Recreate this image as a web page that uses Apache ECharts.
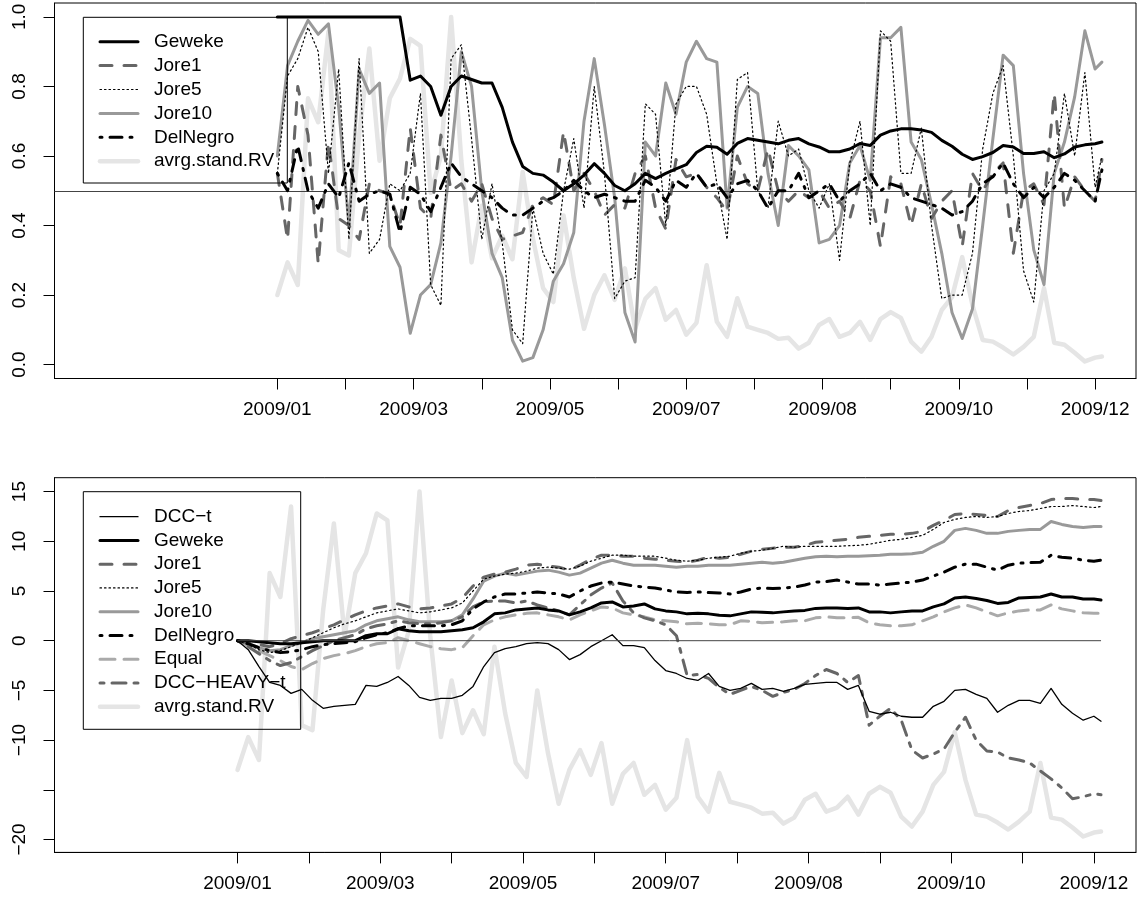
<!DOCTYPE html>
<html>
<head>
<meta charset="utf-8">
<script src="https://cdn.jsdelivr.net/npm/echarts@6/dist/echarts.min.js"></script>
</head>
<body>
<style>
    html, body, #main { width: 100%; height: 100%; margin: 0; background: #fff; }
</style>
<div id="main"></div>
<script>
// observation index grid (every 3rd trading day, plus the last one)
var obs = [];
for (var i = 0; i <= 240; i += 3) obs.push(i);
obs.push(242);

var tickObs = [0, 20, 40, 60, 80, 100, 120, 140, 160, 180, 200, 220, 240];
var labelObs = [0, 40, 80, 120, 160, 200, 240];
var labelText = ['2009/01', '2009/03', '2009/05', '2009/07', '2009/08', '2009/10', '2009/12'];

// ---- top panel: weights ----
var gewekeTop = [1,1,1,1,1,1,1,1,1,1,
    1,1,1,0.818,0.83,0.80,0.717,0.80,0.83,0.82,
    0.81,0.81,0.74,0.64,0.57,0.55,0.545,0.525,0.50,0.52,
    0.545,0.578,0.55,0.515,0.50,0.52,0.55,0.535,0.55,0.563,
    0.575,0.61,0.628,0.625,0.605,0.636,0.65,0.645,0.64,0.635,
    0.645,0.65,0.635,0.626,0.612,0.612,0.62,0.636,0.63,0.66,
    0.672,0.678,0.678,0.675,0.668,0.645,0.628,0.605,0.59,0.598,
    0.61,0.63,0.626,0.607,0.607,0.612,0.595,0.606,0.626,0.632,
    0.635,0.64];
var jore1Top = [0.55,0.36,0.80,0.66,0.29,0.64,0.42,0.40,0.36,0.52,
    0.50,0.49,0.40,0.68,0.45,0.42,0.66,0.50,0.52,0.47,
    0.52,0.42,0.36,0.37,0.38,0.46,0.48,0.46,0.67,0.50,
    0.55,0.50,0.43,0.46,0.45,0.55,0.60,0.45,0.39,0.59,
    0.54,0.55,0.51,0.48,0.44,0.60,0.52,0.50,0.62,0.50,
    0.47,0.50,0.48,0.50,0.45,0.47,0.42,0.53,0.50,0.34,
    0.54,0.52,0.40,0.52,0.42,0.47,0.50,0.34,0.55,0.50,
    0.55,0.58,0.32,0.50,0.52,0.46,0.78,0.45,0.54,0.50,
    0.47,0.59];
var jore5Top = [0.55,0.83,0.88,0.97,0.90,0.55,0.85,0.36,0.88,0.32,
    0.36,0.52,0.50,0.55,0.78,0.23,0.17,0.88,0.92,0.65,
    0.36,0.52,0.35,0.10,0.06,0.45,0.32,0.26,0.50,0.65,
    0.45,0.80,0.55,0.19,0.24,0.25,0.75,0.72,0.40,0.75,
    0.80,0.80,0.72,0.52,0.36,0.82,0.84,0.50,0.45,0.70,
    0.60,0.62,0.50,0.45,0.52,0.30,0.58,0.70,0.40,0.96,
    0.93,0.55,0.55,0.68,0.40,0.19,0.20,0.20,0.32,0.62,
    0.78,0.86,0.60,0.27,0.18,0.50,0.55,0.78,0.60,0.84,
    0.51,0.60];
var jore10Top = [0.60,0.86,0.93,0.99,0.95,0.98,0.74,0.40,0.85,0.78,
    0.81,0.34,0.28,0.09,0.20,0.23,0.35,0.60,0.90,0.80,
    0.50,0.32,0.25,0.07,0.01,0.02,0.10,0.24,0.29,0.38,
    0.70,0.88,0.69,0.48,0.15,0.065,0.64,0.60,0.81,0.72,
    0.87,0.93,0.88,0.87,0.45,0.74,0.80,0.78,0.55,0.40,
    0.63,0.60,0.56,0.35,0.36,0.40,0.58,0.63,0.53,0.94,
    0.94,0.97,0.64,0.59,0.46,0.32,0.15,0.075,0.16,0.40,
    0.65,0.89,0.86,0.55,0.33,0.23,0.55,0.64,0.77,0.96,
    0.85,0.87];
var delNegroTop = [0.55,0.50,0.63,0.50,0.45,0.52,0.48,0.58,0.47,0.49,
    0.50,0.49,0.38,0.51,0.49,0.44,0.51,0.58,0.54,0.52,
    0.50,0.48,0.45,0.43,0.43,0.45,0.47,0.48,0.50,0.53,
    0.50,0.48,0.49,0.48,0.47,0.47,0.53,0.51,0.47,0.53,
    0.51,0.55,0.51,0.52,0.48,0.52,0.53,0.50,0.45,0.50,
    0.50,0.55,0.48,0.50,0.52,0.47,0.50,0.52,0.55,0.50,
    0.52,0.51,0.48,0.47,0.46,0.45,0.43,0.44,0.47,0.52,
    0.54,0.58,0.52,0.48,0.51,0.48,0.51,0.55,0.53,0.50,
    0.47,0.56];
var rvTop = [0.20,0.294,0.229,0.766,0.697,0.957,0.329,0.314,0.66,0.909,
    0.586,0.766,0.823,0.937,0.917,0.494,0.60,1.0,0.586,0.294,
    0.457,0.306,0.371,0.303,0.554,0.363,0.22,0.18,0.429,0.249,
    0.103,0.20,0.257,0.186,0.277,0.103,0.189,0.22,0.129,0.157,
    0.086,0.12,0.286,0.123,0.08,0.191,0.109,0.10,0.091,0.074,
    0.077,0.046,0.063,0.114,0.131,0.08,0.091,0.123,0.071,0.131,
    0.151,0.134,0.066,0.037,0.08,0.157,0.194,0.309,0.171,0.071,
    0.066,0.049,0.029,0.051,0.08,0.22,0.063,0.057,0.034,0.009,
    0.02,0.023];

// ---- bottom panel: cumulative performance ----
var dccT = [0,-0.9,-2.6,-4.2,-4.5,-5.3,-4.9,-6,-6.8,-6.6,
    -6.5,-6.4,-4.5,-4.6,-4.2,-3.6,-4.5,-5.7,-6.0,-5.8,
    -5.8,-5.5,-4.6,-2.6,-1.2,-0.8,-0.6,-0.3,-0.2,-0.3,
    -0.9,-1.9,-1.4,-0.6,0,0.6,-0.5,-0.5,-0.7,-2.0,
    -3.0,-3.3,-3.8,-4.0,-3.3,-4.6,-5.0,-4.8,-4.3,-4.9,
    -4.8,-5.1,-4.8,-4.4,-4.3,-4.2,-4.2,-4.9,-4.5,-7.1,
    -7.4,-7.2,-7.6,-7.7,-7.7,-6.6,-6.1,-5.0,-4.9,-5.4,
    -5.8,-7.2,-6.5,-6.0,-6.0,-6.3,-4.8,-6.4,-7.3,-8.0,
    -7.6,-8.1];
var gewekeCum = [0,0,-0.1,-0.2,-0.3,-0.3,-0.2,-0.1,0,0,
    0,0,0.5,0.7,0.7,1.2,1.0,0.9,0.9,0.9,
    1.0,1.1,1.3,1.9,2.7,2.8,3.1,3.2,3.3,3.1,
    3.0,2.6,2.9,3.3,3.8,3.9,3.4,3.5,3.7,3.2,
    3.0,2.9,2.7,2.75,2.7,2.55,2.5,2.7,2.9,2.85,
    2.8,2.9,3.0,3.05,3.25,3.3,3.3,3.25,3.3,2.9,
    2.9,2.8,2.9,3.0,3.0,3.4,3.7,4.3,4.4,4.25,
    4.05,3.75,3.85,4.3,4.35,4.4,4.7,4.4,4.4,4.2,
    4.2,4.1];
var jore1Cum = [0,-0.2,-0.4,-0.6,-0.3,0.2,0.5,0.8,1.2,1.6,
    2.1,2.6,3.0,3.3,3.5,3.7,3.4,3.2,3.3,3.5,
    3.7,4.3,5.5,6.4,6.7,6.9,7.2,7.6,7.7,7.5,
    7.4,7.1,7.6,8.2,8.6,8.6,8.5,8.5,8.3,8.2,
    8.1,8.0,7.9,8.1,8.4,8.3,8.4,8.7,9.0,9.2,
    9.3,9.4,9.4,9.6,9.9,10.0,10.1,10.2,10.4,10.5,
    10.6,10.7,10.7,10.8,11.0,11.6,12.1,12.7,12.8,12.7,
    12.6,12.5,13.1,13.4,13.6,13.8,14.2,14.3,14.3,14.2,
    14.2,14.1];
var jore5Cum = [0,-0.4,-0.9,-1.2,-1.0,-0.6,-0.2,0.3,0.8,1.3,
    1.7,2.0,2.4,2.8,3.0,3.2,3.0,2.8,2.9,3.1,
    3.3,3.8,5.0,6.2,6.5,6.7,6.8,7.0,7.3,7.4,
    7.3,7.2,7.5,8.0,8.3,8.6,8.6,8.5,8.5,8.5,
    8.3,8.1,8.0,8.1,8.3,8.4,8.5,8.8,9.0,9.1,
    9.3,9.5,9.4,9.5,9.5,9.5,9.5,9.55,9.6,9.7,
    9.9,10.1,10.2,10.4,10.6,11.2,11.9,12.2,12.4,12.5,
    12.4,12.5,12.8,13.0,13.1,13.3,13.5,13.5,13.6,13.5,
    13.4,13.5];
var jore10Cum = [0,-0.3,-0.7,-1.0,-0.9,-0.5,-0.2,0.2,0.4,0.6,
    0.8,1.0,1.6,2.0,2.2,2.4,2.1,1.9,1.9,1.9,
    2.0,2.6,4.2,6.0,6.5,6.8,6.6,6.8,7.0,7.1,
    6.9,6.6,6.8,7.3,7.8,8.1,7.8,7.6,7.6,7.6,
    7.5,7.4,7.5,7.5,7.6,7.6,7.6,7.7,7.8,7.9,
    7.8,7.9,8.1,8.3,8.45,8.5,8.45,8.5,8.5,8.55,
    8.6,8.7,8.7,8.75,8.9,9.5,10.0,11.1,11.3,11.1,
    10.8,10.8,11.0,11.1,11.2,11.2,12.0,11.7,11.5,11.4,
    11.5,11.5];
var delNegroCum = [0,-0.3,-0.7,-1.0,-1.2,-1.1,-0.9,-0.6,-0.4,-0.3,
    -0.2,-0.1,0.3,0.6,0.8,1.2,1.5,1.5,1.5,1.5,
    1.6,2.0,3.2,3.9,4.4,4.7,4.7,4.8,4.9,4.8,
    4.7,4.4,5.0,5.5,5.8,5.9,5.7,5.5,5.4,5.3,
    5.1,4.9,4.85,4.9,4.85,4.8,4.7,4.9,5.2,5.3,
    5.25,5.3,5.4,5.6,5.9,5.95,6.1,5.9,5.7,5.7,
    5.6,5.7,5.8,5.9,6.1,6.5,6.9,7.4,7.7,7.7,
    7.4,7.1,7.6,7.8,7.85,7.9,8.6,8.4,8.3,8.1,
    8.0,8.1];
var equalCum = [0,-0.5,-1.0,-1.5,-2.0,-2.6,-2.9,-2.3,-1.8,-1.5,
    -1.3,-1.0,-0.6,-0.3,-0.2,0.3,0.0,-0.3,-0.6,-0.8,
    -0.9,-0.7,0.5,1.6,2.1,2.4,2.6,2.75,2.8,2.6,
    2.4,2.1,2.6,3.0,3.4,3.3,2.8,2.6,2.4,2.1,
    2.0,1.9,1.7,1.75,1.7,1.6,1.6,2.0,1.95,1.8,
    1.85,1.9,2.0,2.0,2.3,2.4,2.3,2.3,2.35,1.8,
    1.6,1.5,1.5,1.6,2.0,2.4,2.9,3.3,3.6,3.3,
    2.9,2.5,2.8,3.0,3.1,3.1,3.6,3.2,3.0,2.8,
    2.75,2.75];
var heavyCum = [0,-0.6,-1.3,-2.0,-2.5,-2.2,-1.6,-1.0,-0.5,0.0,
    0.3,0.6,1.2,1.5,1.7,2.0,1.8,1.7,1.7,1.8,
    2.0,2.4,3.4,3.9,4.0,4.0,3.8,4.0,3.6,3.3,
    3.0,2.6,3.6,4.6,5.3,5.8,4.0,2.8,2.3,2.0,
    1.6,0.5,-3.5,-3.4,-3.8,-4.7,-5.4,-5.0,-4.6,-5.0,
    -5.6,-5.2,-4.9,-4.3,-3.5,-2.9,-3.3,-4.2,-3.5,-8.5,
    -7.6,-6.8,-8.0,-11.0,-11.8,-11.4,-10.9,-9.2,-7.7,-10.0,
    -11.1,-11.2,-11.8,-12.0,-12.3,-13.1,-13.9,-14.8,-15.9,-15.7,
    -15.4,-15.5];
var rvCum = [-13,-9.7,-12,6.8,4.4,13.5,-8.5,-9,3.1,11.8,
    0.5,6.8,8.8,12.8,12.1,-2.7,1,15,0.5,-9.7,
    -4,-9.3,-7,-9.4,-0.6,-7.3,-12.3,-13.7,-5,-11.3,
    -16.4,-13,-11,-13.5,-10.3,-16.4,-13.4,-12.3,-15.5,-14.5,
    -17,-15.8,-10,-15.7,-17.2,-13.3,-16.2,-16.5,-16.8,-17.4,
    -17.3,-18.4,-17.8,-16,-15.4,-17.2,-16.8,-15.7,-17.5,-15.4,
    -14.7,-15.3,-17.7,-18.7,-17.2,-14.5,-13.2,-9.2,-14,-17.5,
    -17.7,-18.3,-19,-18.2,-17.2,-12.3,-17.8,-18,-18.8,-19.7,
    -19.3,-19.2];
var zeroSpan = [0, 242];

var FONT = '"Liberation Sans", Arial, Helvetica, sans-serif';

var ST = {
    geweke:   { color: '#000000', width: 3,   dash: 'solid' },
    jore1:    { color: '#666666', width: 3,   dash: [12, 12] },
    jore5:    { color: '#000000', width: 1.2, dash: [1.5, 3] },
    jore10:   { color: '#999999', width: 3,   dash: 'solid' },
    delnegro: { color: '#000000', width: 3,   dash: [2, 8, 12, 8] },
    rv:       { color: '#e5e5e5', width: 4.5, dash: 'solid' },
    dcct:     { color: '#000000', width: 1.3, dash: 'solid' },
    equal:    { color: '#aaaaaa', width: 3,   dash: [15, 9] },
    heavy:    { color: '#666666', width: 3,   dash: [4, 8, 14, 8] }
};

function pts(vals) {
    return vals.map(function (v, k) { return [obs[k], v]; });
}

function line(name, vals, g, st, z) {
    return {
        name: name, type: 'line', xAxisIndex: g, yAxisIndex: g,
        data: pts(vals), symbol: 'none', z: z, silent: true,
        lineStyle: { color: st.color, width: st.width, type: st.dash, cap: 'round', join: 'round' }
    };
}

function xAx(g, min, max) {
    return {
        gridIndex: g, type: 'value', min: min, max: max,
        axisLine: { show: true, onZero: false, lineStyle: { color: '#000', width: 1 } },
        axisTick: { show: true, length: 11, lineStyle: { color: '#000', width: 1 }, customValues: tickObs },
        axisLabel: {
            customValues: labelObs, margin: 22, color: '#000', fontSize: 19, fontFamily: FONT,
            formatter: function (v) { var k = labelObs.indexOf(Math.round(v)); return k >= 0 ? labelText[k] : ''; }
        },
        splitLine: { show: false }
    };
}

function yAx(g, min, max, ticks, labels, fmt) {
    return {
        gridIndex: g, type: 'value', min: min, max: max,
        axisLine: { show: true, onZero: false, lineStyle: { color: '#000', width: 1 } },
        axisTick: { show: true, length: 11, lineStyle: { color: '#000', width: 1 }, customValues: ticks },
        axisLabel: { customValues: labels, rotate: 90, margin: 25, color: '#000', fontSize: 19, fontFamily: FONT, formatter: fmt },
        splitLine: { show: false }
    };
}

var topLegend = [['Geweke', ST.geweke], ['Jore1', ST.jore1], ['Jore5', ST.jore5],
    ['Jore10', ST.jore10], ['DelNegro', ST.delnegro], ['avrg.stand.RV', ST.rv]];
var botLegend = [['DCC\u2212t', ST.dcct], ['Geweke', ST.geweke], ['Jore1', ST.jore1], ['Jore5', ST.jore5],
    ['Jore10', ST.jore10], ['DelNegro', ST.delnegro], ['Equal', ST.equal],
    ['DCC\u2212HEAVY\u2212t', ST.heavy], ['avrg.stand.RV', ST.rv]];

function legendBox(items, x, y, w, h, y0, step) {
    var els = [{ type: 'rect', shape: { x: x, y: y, width: w, height: h },
        style: { fill: 'rgba(0,0,0,0)', stroke: '#000', lineWidth: 1 }, z: 20 }];
    items.forEach(function (it, k) {
        var yy = y0 + k * step;
        els.push({ type: 'line', shape: { x1: 100, y1: yy, x2: 138, y2: yy }, z: 20,
            style: { stroke: it[1].color, lineWidth: it[1].width, lineDash: it[1].dash === 'solid' ? null : it[1].dash, lineCap: 'round' } });
        els.push({ type: 'text', x: 154, y: yy, z: 20,
            style: { text: it[0], fill: '#000', fontSize: 19, fontFamily: FONT, verticalAlign: 'middle' } });
    });
    return els;
}

var chart = echarts.init(document.getElementById('main'));
var topSeries = [
    line('avrg.stand.RV', rvTop, 0, ST.rv, 1),
    line('Jore10', jore10Top, 0, ST.jore10, 2),
    line('Jore1', jore1Top, 0, ST.jore1, 3),
    line('Jore5', jore5Top, 0, ST.jore5, 4),
    line('DelNegro', delNegroTop, 0, ST.delnegro, 5),
    line('Geweke', gewekeTop, 0, ST.geweke, 6)
];
topSeries[0].markLine = { silent: true, symbol: 'none', label: { show: false },
    lineStyle: { color: '#444', width: 1, type: 'solid' }, data: [{ yAxis: 0.5 }] };

var botSeries = [
    line('avrg.stand.RV', rvCum, 1, ST.rv, 1),
    line('Equal', equalCum, 1, ST.equal, 2),
    line('Jore10', jore10Cum, 1, ST.jore10, 3),
    line('DCC-HEAVY-t', heavyCum, 1, ST.heavy, 4),
    line('Jore1', jore1Cum, 1, ST.jore1, 5),
    line('Jore5', jore5Cum, 1, ST.jore5, 6),
    line('DelNegro', delNegroCum, 1, ST.delnegro, 7),
    line('Geweke', gewekeCum, 1, ST.geweke, 8),
    line('DCC-t', dccT, 1, ST.dcct, 9),
    { type: 'line', xAxisIndex: 1, yAxisIndex: 1, symbol: 'none', silent: true, z: 10,
      data: zeroSpan.map(function (x) { return [x, 0]; }), lineStyle: { color: '#444', width: 1 } }
];

chart.setOption({
    animation: false,
    backgroundColor: '#fff',
    grid: [
        { left: 54.5, top: 3, width: 1081.5, height: 375.5, show: true, borderColor: '#000', borderWidth: 1, backgroundColor: 'transparent' },
        { left: 54.5, top: 477.7, width: 1081.5, height: 374.7, show: true, borderColor: '#000', borderWidth: 1, backgroundColor: 'transparent' }
    ],
    xAxis: [xAx(0, -65.4, 252), xAx(1, -51.3, 251.8)],
    yAxis: [
        yAx(0, -0.04, 1.04, [0, 0.2, 0.4, 0.6, 0.8, 1.0], [0, 0.2, 0.4, 0.6, 0.8, 1.0],
            function (v) { return v.toFixed(1); }),
        yAx(1, -21.3, 16.4, [-20, -15, -10, -5, 0, 5, 10, 15], [-20, -10, -5, 0, 5, 10, 15],
            function (v) { return v < 0 ? '\u2212' + Math.abs(v) : String(v); })
    ],
    graphic: legendBox(topLegend, 83.3, 17.3, 204, 165.7, 41.7, 23.9)
        .concat(legendBox(botLegend, 83.3, 491.7, 217.4, 237.6, 516.7, 23.75)),
    series: topSeries.concat(botSeries)
});
window.onresize = chart.resize;
</script>
</body>
</html>
